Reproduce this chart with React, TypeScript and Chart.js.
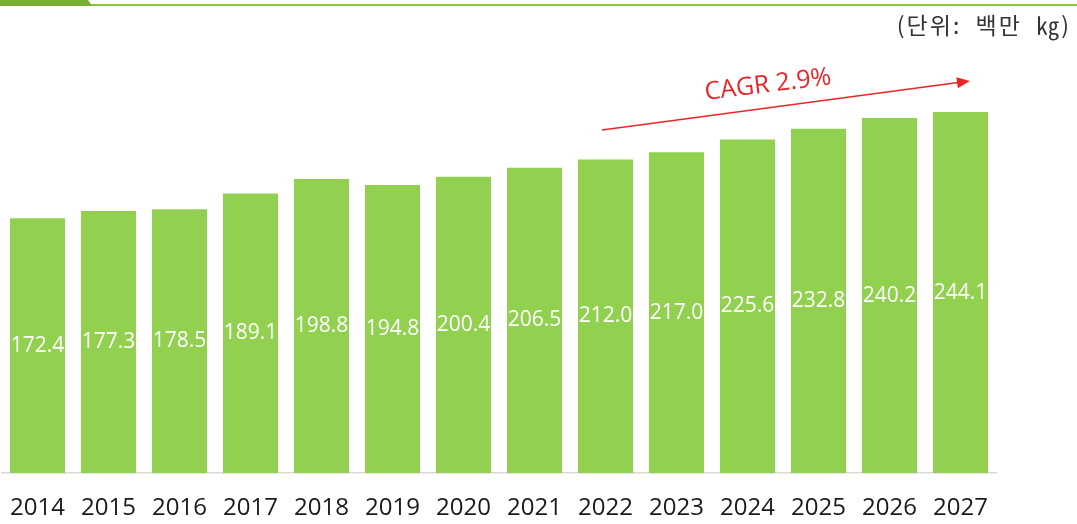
import React, { useEffect, useRef } from "react";
import { Chart, registerables } from "chart.js";

Chart.register(...registerables);

const years = ["2014", "2015", "2016", "2017", "2018", "2019", "2020", "2021", "2022", "2023", "2024", "2025", "2026", "2027"];
const values = [172.4, 177.3, 178.5, 189.1, 198.8, 194.8, 200.4, 206.5, 212.0, 217.0, 225.6, 232.8, 240.2, 244.1];
const unitLabel = "(단위:  백만  ㎏)";
const cagrLabel = "CAGR 2.9%";

const FONT = "'Open Sans', 'Noto Sans CJK KR', sans-serif";
const KFONT = "'Noto Sans CJK KR', sans-serif";

const decorPlugin = {
  id: "decor",
  afterDatasetsDraw(chart: any) {
    const ctx = chart.ctx;
    const meta = chart.getDatasetMeta(0);
    ctx.save();
    // value labels centered in bars
    ctx.fillStyle = "#ffffff";
    ctx.font = `21px ${FONT}`;
    ctx.textAlign = "center";
    ctx.textBaseline = "middle";
    meta.data.forEach((bar: any, i: number) => {
      const cy = (bar.y + bar.base) / 2;
      ctx.fillText(values[i].toFixed(1), bar.x, cy);
    });
    // top green line with tab
    ctx.fillStyle = "#8cc63f";
    ctx.fillRect(0, 4, 1077, 2);
    ctx.fillStyle = "#78b032";
    ctx.beginPath();
    ctx.moveTo(0, 0);
    ctx.lineTo(88, 0);
    ctx.lineTo(92, 6);
    ctx.lineTo(0, 6);
    ctx.closePath();
    ctx.fill();
    // unit label
    ctx.fillStyle = "#333333";
    ctx.font = `23px ${KFONT}`;
    ctx.textAlign = "right";
    ctx.textBaseline = "middle";
    try { (ctx as any).letterSpacing = "2px"; } catch (e) {}
    ctx.fillText(unitLabel, 1071, 25);
    try { (ctx as any).letterSpacing = "0px"; } catch (e) {}
    // CAGR arrow
    const x1 = 602, y1 = 130, x2 = 970, y2 = 81;
    ctx.strokeStyle = "#e8262a";
    ctx.fillStyle = "#e8262a";
    ctx.lineWidth = 1.5;
    ctx.beginPath();
    ctx.moveTo(x1, y1);
    ctx.lineTo(x2 - 10, y2 + 1.3);
    ctx.stroke();
    const ang = Math.atan2(y2 - y1, x2 - x1);
    ctx.save();
    ctx.translate(x2, y2);
    ctx.rotate(ang);
    ctx.beginPath();
    ctx.moveTo(0, 0);
    ctx.lineTo(-13, -5.5);
    ctx.lineTo(-13, 5.5);
    ctx.closePath();
    ctx.fill();
    ctx.restore();
    ctx.save();
    ctx.translate(768, 85);
    ctx.rotate(-0.125);
    ctx.font = `25px ${FONT}`;
    ctx.textAlign = "center";
    ctx.textBaseline = "middle";
    ctx.fillText(cagrLabel, 0, 0);
    ctx.restore();
    ctx.restore();
  },
};

export default function App() {
  const ref = useRef<HTMLCanvasElement | null>(null);
  useEffect(() => {
    if (!ref.current) return;
    const chart = new Chart(ref.current, {
      type: "bar",
      data: {
        labels: years,
        datasets: [
          {
            data: values,
            backgroundColor: "#92d050",
            barPercentage: 0.775,
            categoryPercentage: 1.0,
          },
        ],
      },
      options: {
        animation: false,
        responsive: false,
        maintainAspectRatio: false,
        layout: { padding: { left: 2, right: 81, top: 59, bottom: -20 } },
        plugins: { legend: { display: false }, tooltip: { enabled: false } },
        scales: {
          x: {
            grid: { display: false, drawTicks: false, tickLength: 0 },
            border: { display: true, color: "#d9d9d9", width: 1.5 },
            ticks: { color: "#1a1a1a", font: { size: 24, family: FONT }, padding: 21, maxRotation: 0, autoSkip: false },
            afterFit: (scale: any) => {
              scale.paddingLeft = 0;
              scale.paddingRight = 0;
            },
          },
          y: {
            display: false,
            min: 0,
            max: 280,
          },
        },
      },
      plugins: [decorPlugin],
    });
    return () => chart.destroy();
  }, []);
  return (
    <div style={{ position: "fixed", left: 0, top: 0, width: 1077, height: 524, background: "#fff" }}>
      <canvas ref={ref} width={1077} height={524} style={{ width: 1077, height: 524 }} />
    </div>
  );
}
